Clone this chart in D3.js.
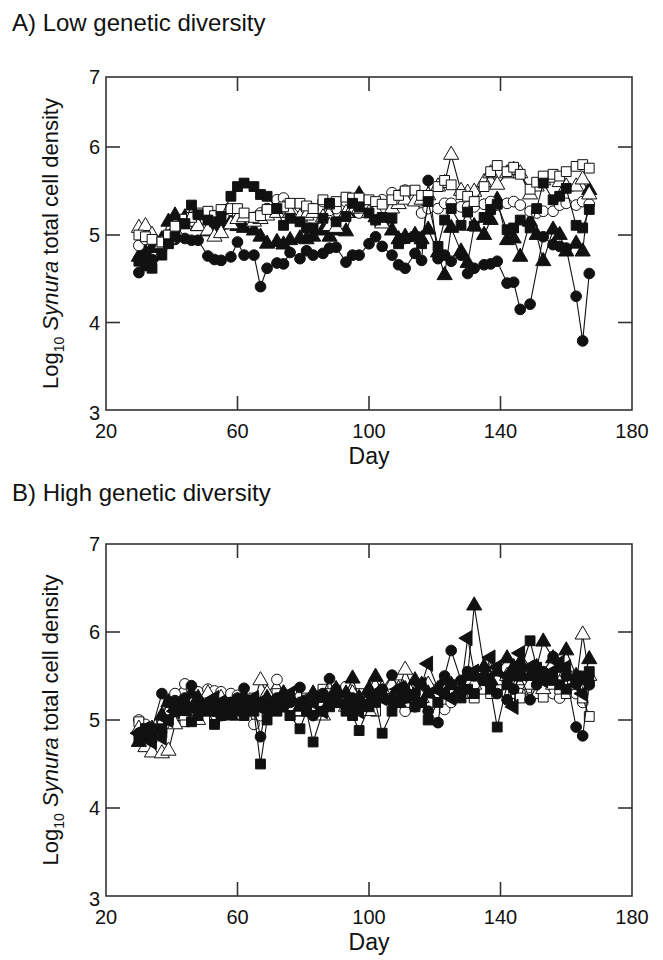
<!DOCTYPE html>
<html>
<head>
<meta charset="utf-8">
<script src="https://cdn.jsdelivr.net/npm/d3@7"></script>
<style>
  body { margin: 0; background: #fff; }
  text { font-family: "Liberation Sans", Arial, sans-serif; fill: #111; }
</style>
</head>
<body>
<svg id="chart"></svg>
<script>
// sampling days (same for both panels)
const days = [30, 32, 34, 37, 39, 41, 44, 46, 48, 51, 53, 55, 58, 60, 62, 65, 67, 69, 72, 74,
  76, 79, 81, 83, 86, 88, 90, 93, 95, 97, 100, 102, 104, 107, 109, 111, 114, 116, 118, 121,
  123, 125, 128, 130, 132, 135, 137, 139, 142, 144, 146, 149, 151, 153, 156, 158, 160, 163, 165, 167];

// --- A) low genetic diversity ---
const lowFilledCircle = [4.57, 4.65, 4.72, 4.85, 4.95, 4.95, 4.96, 4.94, 4.94, 4.76,
  4.72, 4.71, 4.75, 4.92, 4.77, 4.77, 4.41, 4.62, 4.68, 4.67,
  4.80, 4.73, 4.82, 4.77, 4.79, 4.85, 4.86, 4.69, 4.77, 4.77,
  4.90, 4.98, 4.87, 4.77, 4.66, 4.62, 4.79, 4.71, 5.62, 4.73,
  4.77, 4.70, 4.77, 4.56, 4.62, 4.66, 4.67, 4.70, 4.45, 4.46,
  4.15, 4.21, null, 4.98, 4.89, 4.87, 4.85, 4.30, 3.79, 4.56];
const lowOpenCircle = [4.88, 4.95, 4.95, 4.92, 5.00, 5.05, 5.15, 5.20, 5.22, 5.20,
  5.22, 5.25, 5.28, 5.25, 5.22, 5.20, 5.25, 5.30, 5.40, 5.42,
  5.35, 5.32, 5.27, 5.30, 5.38, 5.28, 5.30, 5.38, 5.30, 5.25,
  5.30, 5.35, 5.40, 5.48, 5.45, 5.51, 5.42, 5.25, 5.30, 5.30,
  5.36, 5.36, 5.32, 5.32, 5.32, 5.35, 5.38, 5.34, 5.36, 5.38,
  5.34, 5.27, 5.25, 5.27, 5.27, 5.34, 5.36, 5.34, 5.38, 5.35];
const lowFilledSquare = [4.70, 4.75, 4.62, 4.77, 4.90, 4.98, 5.13, 5.34, 5.23, 5.17,
  5.15, 5.21, 5.44, 5.55, 5.59, 5.55, 5.46, 5.44, 5.30, 5.11,
  5.19, 5.15, 5.08, 5.08, 5.19, 5.36, 5.15, 5.21, 5.36, 5.32,
  5.25, 5.17, 5.20, 5.19, 4.90, 4.96, 4.98, 4.90, 5.38, 4.87,
  5.17, 5.30, 5.11, 5.26, 5.10, 5.20, 5.29, 5.35, 5.06, 5.08,
  5.17, 5.08, 5.30, 5.59, 5.40, 5.44, 5.53, 5.11, 5.08, 5.29];
const lowOpenSquare = [5.00, 4.98, 4.95, 4.92, 5.00, 5.10, 5.18, 5.20, 5.25, 5.27,
  5.22, 5.29, 5.30, 5.30, 5.25, 5.20, 5.22, 5.29, 5.30, 5.32,
  5.36, 5.36, 5.33, 5.30, 5.40, 5.35, 5.38, 5.43, 5.42, 5.42,
  5.40, 5.38, 5.35, 5.40, 5.45, 5.50, 5.51, 5.45, 5.45, 5.55,
  5.62, 5.57, 5.46, 5.44, 5.38, 5.55, 5.72, 5.79, 5.72, 5.77,
  5.69, 5.52, 5.60, 5.67, 5.69, 5.67, 5.72, 5.78, 5.80, 5.76];
const lowFilledTriangle = [4.75, 4.80, 4.85, 4.95, 5.15, 5.22, 5.20, 5.15, 5.10, 5.04,
  5.10, 5.12, 5.15, 5.10, 5.08, 5.05, 4.98, 4.90, 4.92, 4.89,
  4.94, 4.96, 4.95, 4.98, 5.05, 4.98, 5.05, 5.04, 5.25, 5.46,
  5.30, 5.20, 5.15, 5.05, 4.95, 4.98, 5.00, 4.95, 5.06, 4.80,
  4.54, 5.08, 4.81, 4.68, 5.10, 5.00, 5.17, 5.40, 4.94, 4.96,
  4.75, 5.15, 5.00, 4.70, 5.06, 5.00, 4.81, 4.90, 4.81, 5.51];
const lowOpenTriangle = [5.08, 5.10, 5.00, 4.90, 4.95, 5.05, 5.12, 5.15, 5.10, 5.05,
  4.98, 5.02, 5.12, 5.18, 5.20, 5.15, 5.18, 5.22, 5.25, 5.30,
  5.25, 5.20, 5.22, 5.25, 5.20, 5.10, 5.08, 5.25, 5.30, 5.30,
  5.25, 5.28, 5.13, 5.30, 5.35, 5.40, 5.38, 5.40, 5.45, 5.55,
  5.59, 5.91, 5.50, 5.48, 5.49, 5.60, 5.70, 5.57, 5.70, 5.74,
  5.70, 5.46, 5.55, 5.62, 5.65, 5.60, 5.55, 5.55, 5.63, 5.46];

// --- B) high genetic diversity ---
const highFilledCircle = [4.85, 4.80, 4.90, 5.30, 5.20, 5.22, 5.25, 5.39, 5.20, 5.15,
  5.10, 5.05, 5.20, 5.25, 5.36, 5.15, 4.81, 5.20, 5.25, 5.15,
  5.20, 5.37, 5.10, 5.05, 5.30, 5.47, 5.20, 5.15, 5.25, 5.20,
  5.30, 5.25, 5.35, 5.51, 5.35, 5.25, 5.30, 5.20, 5.10, 4.97,
  5.50, 5.79, 5.45, 5.55, 5.50, 5.45, 5.40, 5.30, 5.23, 5.35,
  5.50, 5.23, 5.40, 5.55, 5.72, 5.60, 5.50, 4.92, 4.82, 5.40];
const highOpenCircle = [5.00, 4.95, 4.90, 5.00, 5.10, 5.30, 5.41, 5.35, 5.32, 5.35,
  5.33, 5.32, 5.30, 5.28, 5.25, 4.95, 5.05, 5.28, 5.46, 5.30,
  5.25, 5.20, 5.15, 5.25, 5.32, 5.20, 5.35, 5.38, 5.30, 5.20,
  5.25, 5.40, 5.30, 5.35, 5.20, 5.10, 5.15, 5.30, 5.25, 5.30,
  5.12, 5.20, 5.40, 5.50, 5.45, 5.45, 5.50, 5.40, 5.30, 5.35,
  5.30, 5.25, 5.35, 5.40, 5.30, 5.25, 5.40, 5.30, 5.20, 5.45];
const highFilledSquare = [4.80, 4.90, 4.85, 4.90, 5.00, 5.10, 5.15, 4.98, 5.05, 5.10,
  4.95, 5.05, 5.15, 5.10, 5.05, 5.10, 4.50, 5.00, 5.10, 5.20,
  5.05, 4.90, 5.10, 4.75, 5.10, 5.15, 5.20, 5.10, 5.05, 4.88,
  5.15, 5.20, 4.85, 5.10, 5.20, 5.25, 5.15, 5.20, 5.00, 5.20,
  5.30, 5.40, 5.25, 5.35, 5.30, 5.45, 5.35, 4.92, 5.40, 5.50,
  5.55, 5.90, 5.60, 5.50, 5.45, 5.40, 5.35, 5.45, 5.50, 5.55];
const highOpenSquare = [4.98, 4.90, 4.80, 4.85, 5.00, 5.05, 4.98, 5.05, 5.10, 5.20,
  5.00, 5.10, 5.20, 5.15, 5.20, 5.25, 5.20, 5.10, 5.30, 5.20,
  5.05, 5.10, 5.25, 5.20, 5.35, 5.30, 5.20, 5.15, 5.25, 5.30,
  5.20, 5.10, 5.25, 5.30, 5.40, 5.20, 5.25, 5.30, 5.20, 5.35,
  5.40, 5.30, 5.35, 5.30, 5.25, 5.35, 5.30, 5.40, 5.45, 5.30,
  5.25, 5.55, 5.30, 5.26, 5.45, 5.35, 5.30, 5.50, 5.25, 5.04];
const highFilledTriangle = [4.75, 4.85, 4.90, 5.05, 5.20, 5.15, 5.10, 5.30, 5.25, 5.10,
  5.20, 5.15, 5.05, 5.20, 5.25, 5.20, 5.15, 5.25, 5.20, 5.30,
  5.25, 5.15, 5.20, 5.30, 5.25, 5.20, 5.35, 5.30, 5.47, 5.25,
  5.35, 5.49, 5.30, 5.25, 5.20, 5.35, 5.45, 5.40, 5.30, 5.35,
  5.45, 5.40, 5.35, 5.50, 6.30, 5.60, 5.45, 5.55, 5.70, 5.60,
  5.65, 5.50, 5.60, 5.89, 5.70, 5.60, 5.79, 5.50, 5.45, 5.69];
const highOpenTriangle = [4.90, 4.69, 4.63, 4.62, 4.65, 4.95, 5.05, 5.10, 5.00, 5.30,
  5.20, 5.25, 5.10, 5.05, 5.15, 5.20, 5.45, 5.30, 5.20, 5.30,
  5.25, 5.10, 5.20, 5.15, 5.05, 5.20, 5.25, 5.15, 5.30, 5.20,
  5.10, 5.25, 5.35, 5.40, 5.35, 5.57, 5.30, 5.25, 5.40, 5.30,
  5.45, 5.35, 5.30, 5.45, 5.40, 5.50, 5.55, 5.45, 5.50, 5.55,
  5.45, 5.40, 5.50, 5.35, 5.40, 5.50, 5.55, 5.40, 5.97, 5.50];
const highFilledLeftTriangle = [4.85, 4.90, 4.75, 4.80, 5.00, 5.10, 5.20, 5.15, 5.10, 5.20,
  5.25, 5.20, 5.10, 5.20, 5.15, 5.25, 5.20, 5.10, 5.15, 5.25,
  5.30, 5.20, 5.15, 5.20, 5.10, 5.25, 5.30, 5.20, 5.15, 5.10,
  5.20, 5.30, 5.25, 5.20, 5.35, 5.30, 5.25, 5.40, 5.64, 5.35,
  5.30, 5.25, 5.35, 5.93, 5.55, 5.50, 5.71, 5.60, 5.50, 5.15,
  5.76, 5.60, 5.50, 5.45, 5.55, 5.65, 5.60, 5.40, 5.30, 5.45];

const xTicks = [20, 60, 100, 140, 180];
const yTicks = [3, 4, 5, 6, 7];

const svg = d3.select("#chart").attr("width", 663).attr("height", 960);
const x = d3.scaleLinear().domain([20, 180]).range([106, 632]);

const shapes = {
  circle: { type: d3.symbolCircle, size: 90, rotate: 0 },
  square: { type: d3.symbolSquare, size: 96, rotate: 0 },
  triangle: { type: d3.symbolTriangle, size: 100, rotate: 0 },
  left: { type: d3.symbolTriangle, size: 100, rotate: -90 },
};

function drawPanel(p) {
  const y = d3.scaleLinear().domain(p.yDomain).range(p.yRange);
  const g = svg.append("g");
  const [x0, x1] = x.range();
  const yb = y(3), yt = y(7);

  // panel title
  svg.append("text").attr("x", 12).attr("y", p.titleY)
    .style("font-size", "24px").text(p.title);

  // series
  p.series.forEach((s) => {
    const pts = days.map((d, i) => ({ day: d, v: s.values[i] })).filter((d) => d.v != null);
    const line = d3.line().x((d) => x(d.day)).y((d) => y(d.v));
    g.append("path").attr("d", line(pts))
      .attr("fill", "none").attr("stroke", "#111").attr("stroke-width", 1.1);
    const sh = shapes[s.shape];
    const sym = d3.symbol().type(sh.type).size(sh.size);
    g.selectAll(null).data(pts).join("path")
      .attr("d", sym)
      .attr("transform", (d) => `translate(${x(d.day)},${y(d.v)}) rotate(${sh.rotate})`)
      .attr("fill", s.filled ? "#111" : "#fff")
      .attr("stroke", "#111").attr("stroke-width", 1);
  });

  // frame
  const ax = svg.append("g").attr("stroke", "#333").attr("stroke-width", 1.6).attr("fill", "none");
  ax.append("rect").attr("x", x0).attr("y", yt).attr("width", x1 - x0).attr("height", yb - yt);
  const tickLen = 14;
  xTicks.slice(1, -1).forEach((t) => {
    ax.append("line").attr("x1", x(t)).attr("x2", x(t)).attr("y1", yb).attr("y2", yb - tickLen);
    ax.append("line").attr("x1", x(t)).attr("x2", x(t)).attr("y1", yt).attr("y2", yt + tickLen);
  });
  yTicks.slice(1, -1).forEach((t) => {
    ax.append("line").attr("x1", x0).attr("x2", x0 + tickLen).attr("y1", y(t)).attr("y2", y(t));
    ax.append("line").attr("x1", x1).attr("x2", x1 - tickLen).attr("y1", y(t)).attr("y2", y(t));
  });

  // tick labels
  svg.selectAll(null).data(xTicks).join("text")
    .attr("x", (d) => x(d)).attr("y", yb + 28)
    .attr("text-anchor", "middle").style("font-size", "20px").text((d) => d);
  svg.selectAll(null).data(yTicks).join("text")
    .attr("x", x0 - 6).attr("y", (d) => y(d) + 7 + (d === 3 ? 3 : 0))
    .attr("text-anchor", "end").style("font-size", "20px").text((d) => d);

  // axis titles
  svg.append("text").attr("x", (x0 + x1) / 2).attr("y", yb + 54)
    .attr("text-anchor", "middle").style("font-size", "23px").text("Day");

  const yl = svg.append("text")
    .attr("transform", `translate(58,${(yb + yt) / 2}) rotate(-90)`)
    .attr("text-anchor", "middle").style("font-size", "22px");
  yl.append("tspan").text("Log");
  yl.append("tspan").attr("dy", 6).style("font-size", "14px").text("10");
  yl.append("tspan").attr("dy", -6).text(" ");
  yl.append("tspan").style("font-style", "italic").text("Synura");
  yl.append("tspan").text(" total cell density");
}

drawPanel({
  title: "A) Low genetic diversity",
  titleY: 31,
  yDomain: [3, 4, 5, 6, 7],
  yRange: [410, 322.5, 235, 147, 77],
  series: [
    { values: lowFilledCircle, shape: "circle", filled: true },
    { values: lowFilledTriangle, shape: "triangle", filled: true },
    { values: lowOpenCircle, shape: "circle", filled: false },
    { values: lowOpenTriangle, shape: "triangle", filled: false },
    { values: lowOpenSquare, shape: "square", filled: false },
    { values: lowFilledSquare, shape: "square", filled: true },
  ],
});

drawPanel({
  title: "B) High genetic diversity",
  titleY: 501,
  yDomain: [3, 7],
  yRange: [896, 544],
  series: [
    { values: highOpenCircle, shape: "circle", filled: false },
    { values: highOpenSquare, shape: "square", filled: false },
    { values: highOpenTriangle, shape: "triangle", filled: false },
    { values: highFilledCircle, shape: "circle", filled: true },
    { values: highFilledSquare, shape: "square", filled: true },
    { values: highFilledTriangle, shape: "triangle", filled: true },
    { values: highFilledLeftTriangle, shape: "left", filled: true },
  ],
});
</script>
</body>
</html>
